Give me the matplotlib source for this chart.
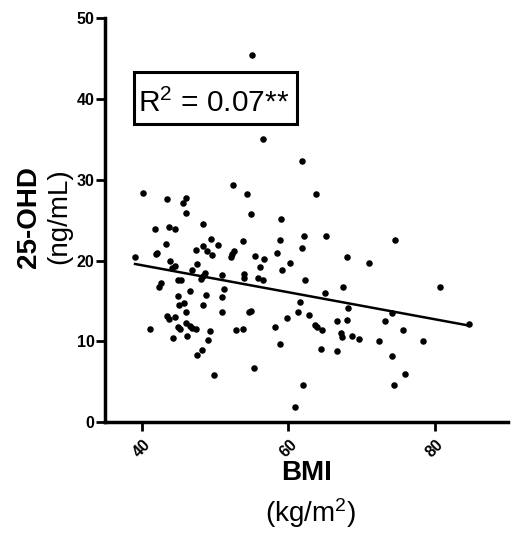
import numpy as np
import matplotlib
matplotlib.use("Agg")
import matplotlib.pyplot as plt
from matplotlib.patches import Rectangle

plt.rcParams['font.family'] = ['Liberation Sans', 'DejaVu Sans']
plt.rcParams['mathtext.fontset'] = 'custom'
plt.rcParams['mathtext.rm'] = 'Liberation Sans'
plt.rcParams['mathtext.it'] = 'Liberation Sans:italic'
plt.rcParams['mathtext.bf'] = 'Liberation Sans:bold'

# BMI (kg/m2) and 25-OHD (ng/mL)
bmi = [55.0, 56.6, 61.8, 40.2, 43.5, 45.7, 46.1, 46.0, 52.4, 54.3,
       54.9, 59.0, 63.8, 41.8, 43.7, 44.5, 48.4, 43.3, 49.4, 50.4,
       48.3, 47.4, 48.9, 49.6, 53.8, 52.6, 52.3, 52.2, 58.9, 62.2,
       61.8, 58.4, 55.4, 56.7, 56.2, 60.2, 59.1, 65.2, 68.0, 67.5,
       39.1, 41.9, 42.1, 43.8, 44.6, 44.2, 47.5, 46.9, 48.7, 48.3,
       48.1, 51.0, 54.0, 53.9, 55.9, 56.6, 62.3, 45.0, 45.4, 42.7,
       42.3, 51.2, 51.0, 46.6, 45.0, 48.8, 45.8, 45.1, 48.3, 46.1,
       51.0, 54.9, 54.7, 61.6, 61.3, 62.8, 43.4, 43.7, 44.5, 59.8,
       46.1, 46.6, 46.8, 47.4, 44.9, 45.2, 41.1, 49.3, 52.8, 53.8,
       58.2, 46.2, 44.3, 49.0, 58.9, 48.2, 47.5, 49.9, 55.3, 62.0,
       60.9, 74.5, 71.0, 80.7, 65.0, 68.2, 74.1, 84.6, 63.6, 63.9,
       64.6, 66.7, 68.0, 73.2, 75.7, 67.2, 67.3, 68.7, 69.7, 72.3,
       78.3, 64.4, 66.6, 74.2, 75.9, 74.4]
ohd = [45.5, 35.1, 32.4, 28.4, 27.6, 27.2, 27.8, 25.9, 29.4, 28.2,
       25.8, 25.2, 28.3, 23.9, 24.2, 23.9, 24.5, 22.1, 22.7, 22.0,
       21.8, 21.3, 21.2, 20.7, 22.4, 21.2, 20.8, 20.5, 22.6, 23.0,
       21.6, 20.9, 20.6, 20.2, 19.2, 19.7, 18.8, 23.1, 20.5, 16.7,
       20.4, 20.8, 21.0, 20.0, 19.3, 19.1, 19.6, 18.9, 18.5, 18.1,
       17.7, 18.2, 18.4, 17.8, 17.9, 17.6, 17.6, 17.6, 17.6, 17.2,
       16.8, 16.5, 15.5, 16.2, 15.6, 15.8, 14.8, 14.5, 14.5, 13.7,
       13.7, 13.8, 13.6, 14.9, 13.7, 13.3, 13.1, 12.8, 13.0, 12.9,
       12.3, 11.9, 11.7, 11.6, 11.8, 11.5, 11.6, 11.3, 11.4, 11.6,
       11.8, 10.7, 10.4, 10.2, 9.7, 8.9, 8.3, 5.8, 6.7, 4.6,
       1.9, 22.6, 19.7, 16.7, 16.0, 14.1, 13.5, 12.2, 12.1, 11.8,
       11.4, 12.5, 12.6, 12.5, 11.4, 11.0, 10.6, 10.7, 10.3, 10.0,
       10.1, 9.1, 8.8, 8.2, 6.0, 4.6]
r2_text = r"$\mathrm{R}^{2}$ = 0.07**"

x = np.array(bmi)
y = np.array(ohd)
slope, intercept = np.polyfit(x, y, 1)
xfit = np.array([x.min(), x.max()])

fig = plt.figure(figsize=(5.19, 5.37), dpi=100)
ax = fig.add_axes([0.2023, 0.2136, 0.7771, 0.7523])

ax.scatter(x, y, s=22, color='black', zorder=3, linewidths=0)
ax.plot(xfit, slope * xfit + intercept, color='black', lw=1.8)

ax.set_xlim(35, 90)
ax.set_ylim(0, 50)
ax.set_xticks([40, 60, 80])
ax.set_yticks([0, 10, 20, 30, 40, 50])

for s in ['top', 'right']:
    ax.spines[s].set_visible(False)
for s in ['left', 'bottom']:
    ax.spines[s].set_linewidth(2.5)

ax.tick_params(axis='both', width=2, length=6.5, color='black', labelsize=11.5)
ax.tick_params(axis='y', pad=1)
ax.tick_params(axis='x', pad=4)
for lab in ax.get_yticklabels():
    lab.set_fontweight('bold')
for lab in ax.get_xticklabels():
    lab.set_fontweight('bold')
    lab.set_rotation(45)

ax.add_patch(Rectangle((0.0727, 0.7376), 0.4026, 0.1287, transform=ax.transAxes,
                       fill=False, lw=2.2, edgecolor='black', clip_on=False))
ax.text(0.2703, 0.7688, r2_text, transform=ax.transAxes, ha='center',
        va='baseline', fontsize=21.5)

fig.text(0.5906, 0.106, "BMI", ha='center', va='baseline', fontsize=20,
         fontweight='bold')
fig.text(0.599, 0.0285, r"(kg/$\mathrm{m}^{2}$)", ha='center', va='baseline',
         fontsize=20)
fig.text(0.055, 0.596, "25-OHD", ha='center', va='center', rotation=90,
         fontsize=20, fontweight='bold')
fig.text(0.1137, 0.597, "(ng/mL)", ha='center', va='center', rotation=90,
         fontsize=20)

fig.savefig("out.png", dpi=100)
